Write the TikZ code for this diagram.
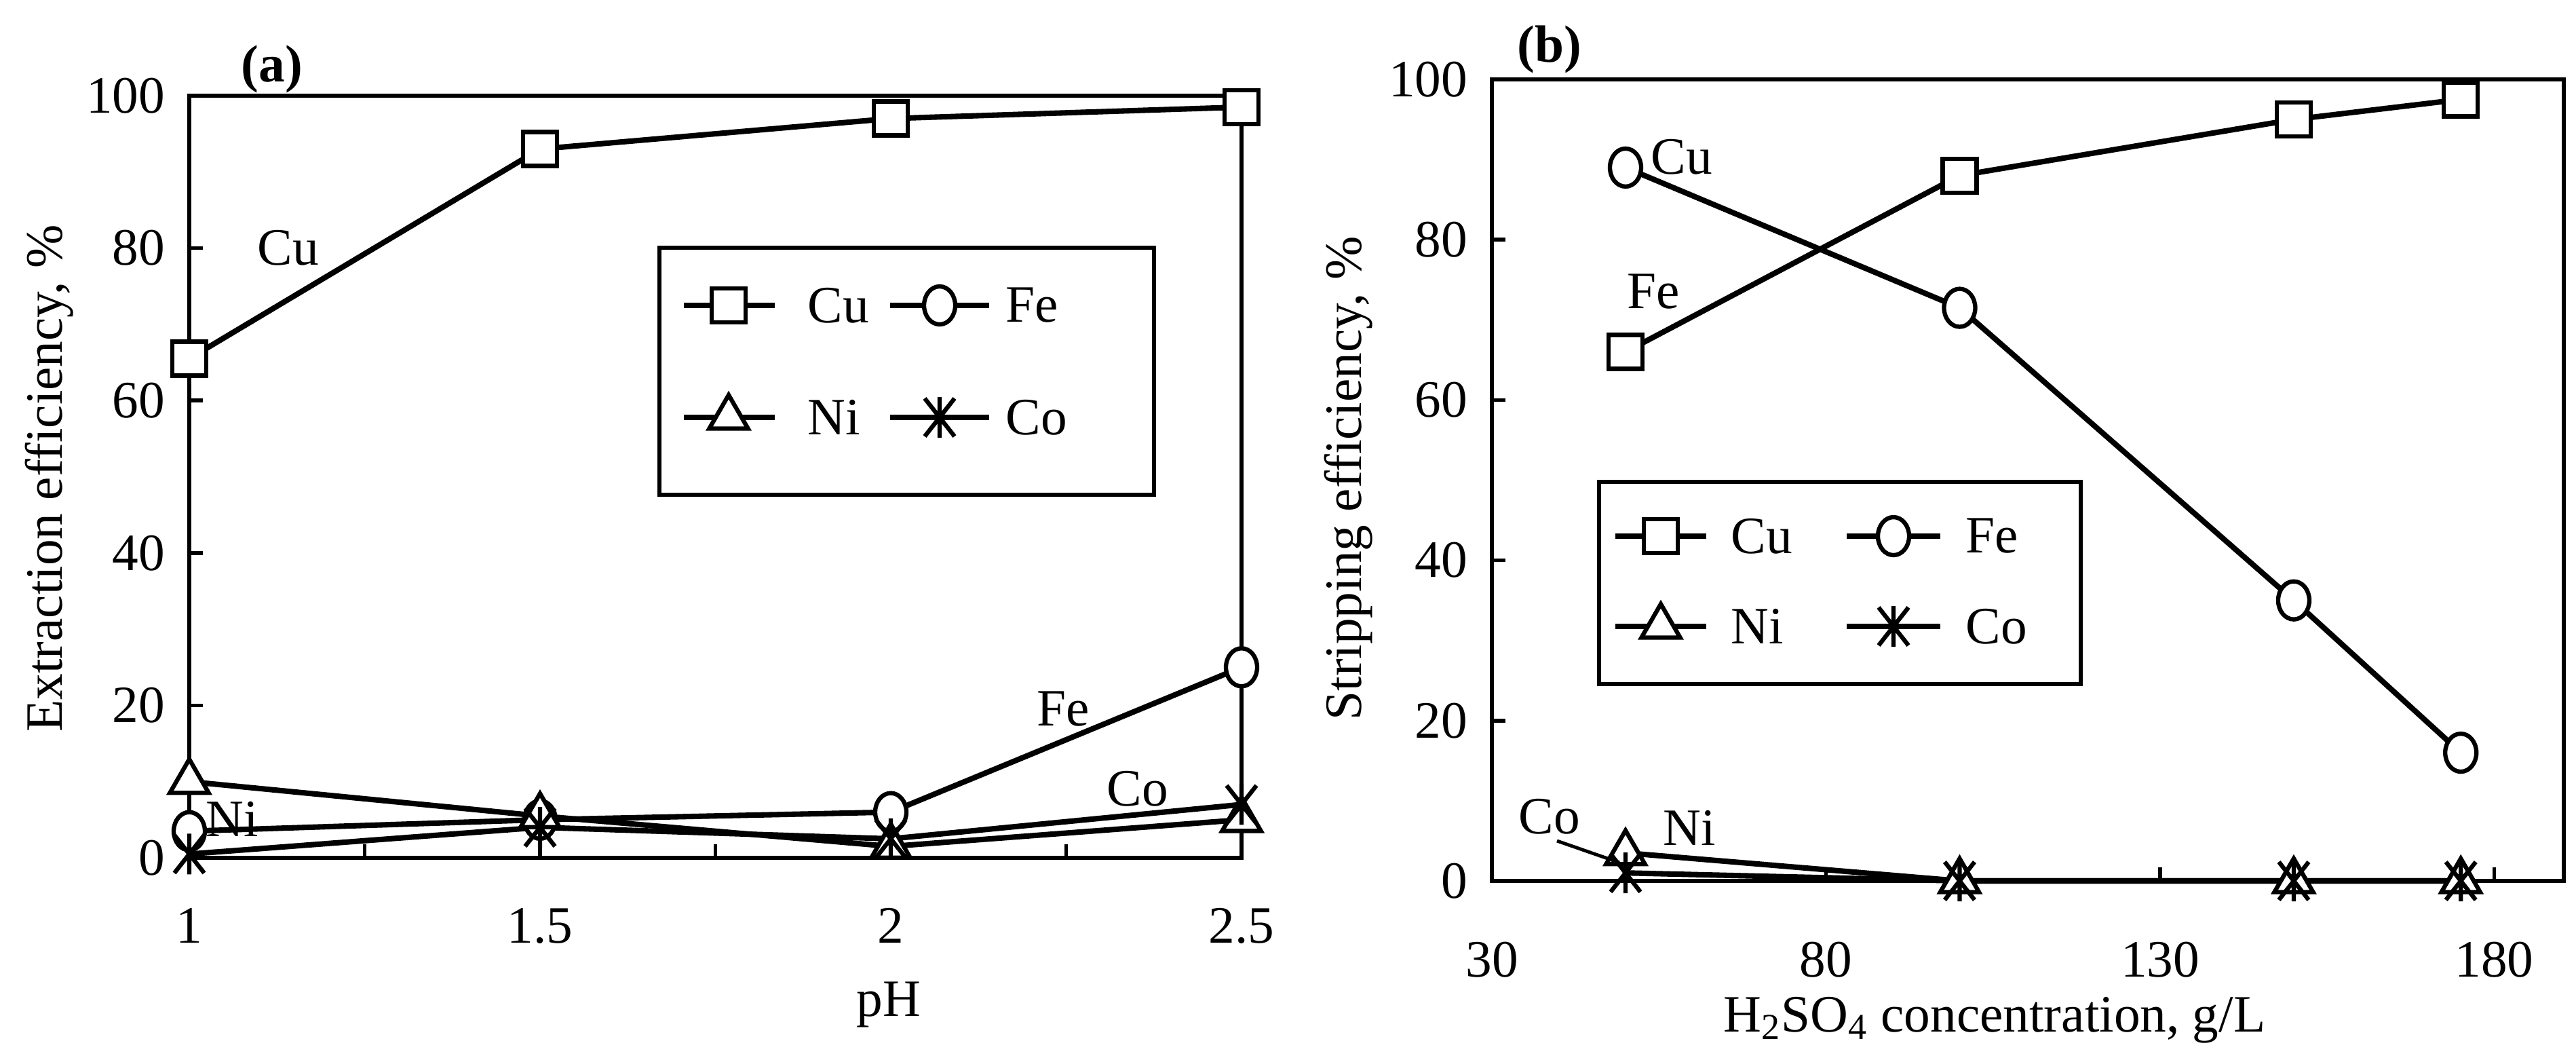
\documentclass[tikz,border=0pt]{standalone}
\usepackage{fontspec}
\setmainfont{Liberation Serif}
\usetikzlibrary{shapes.geometric}
\begin{document}
\begin{tikzpicture}[
  ln/.style={line width=2.3pt,line join=round},
  fr/.style={line width=1.6pt},
  sq/.style={draw,line width=1.8pt,fill=white,minimum size=0.5cm,inner sep=0pt},
  ci/.style={draw,ellipse,line width=1.8pt,fill=white,minimum width=0.46cm,minimum height=0.56cm,inner sep=0pt},
  tri/.style={draw,regular polygon,regular polygon sides=3,line width=1.8pt,fill=white,minimum size=0.66cm,inner sep=0pt},
  lab/.style={font=\fontsize{22}{26}\selectfont,inner sep=0pt},
  ast/.pic={\draw[line width=1.8pt] (-0.22cm,-0.28cm)--(0.22cm,0.28cm) (-0.22cm,0.28cm)--(0.22cm,-0.28cm) (0,-0.3cm)--(0,0.3cm);}
]
\useasboundingbox (0,0) rectangle (37.97,-15.55);
% ================= panel (a)
\begin{scope}[shift={(-7.55cm,-12.64cm)},x=10.34cm,y=0.1123cm]
\draw[fr] (1,0) rectangle (2.5,100);
\foreach \t in {1.25,1.5,1.75,2,2.25} \draw[fr] (\t,0)--++(0,0.2cm);
\foreach \t in {20,40,60,80} \draw[fr] (1,\t)--++(0.2cm,0);
\foreach \t in {0,20,40,60,80,100} \node[lab,anchor=east] at ([xshift=-0.35cm]1,\t) {\t};
\foreach \t in {1,1.5,2,2.5} \node[lab] at ([yshift=-1.0cm]\t,0) {\t};
\coordinate (a1) at (1,65.5); \coordinate (a2) at (1.5,93); \coordinate (a3) at (2,97); \coordinate (a4) at (2.5,98.5);
\coordinate (b1) at (1,3.5); \coordinate (b2) at (1.5,5); \coordinate (b3) at (2,6); \coordinate (b4) at (2.5,25);
\coordinate (c1) at (1,10); \coordinate (c2) at (1.5,5.5); \coordinate (c3) at (2,1.5); \coordinate (c4) at (2.5,5);
\coordinate (d1) at (1,0.5); \coordinate (d2) at (1.5,4); \coordinate (d3) at (2,2.5); \coordinate (d4) at (2.5,7);
\draw[ln] (a1)--(a2)--(a3)--(a4);
\draw[ln] (b1)--(b2)--(b3)--(b4);
\draw[ln] (c1)--(c2)--(c3)--(c4);
\draw[ln] (d1)--(d2)--(d3)--(d4);
\foreach \i in {1,2,3,4} {\node[sq] at (a\i) {}; \node[ci] at (b\i) {}; \node[tri] at (c\i) {}; \pic at (d\i) {ast};}
\end{scope}
\node[lab] (cua) at (4.25,-3.65) {Cu};
\node[lab] (fea) at (15.67,-10.45) {Fe};
\node[lab] (coa) at (16.77,-11.62) {Co};
\node[lab] (nia) at (3.42,-12.07) {Ni};
\node[lab,font=\fontsize{22}{26}\selectfont\bfseries] (ta) at (4.01,-1.02) {(a)};
\node[lab,rotate=90] (yla) at (0.73,-7.05) {Extraction efficiency, \%};
\node[lab] (xla) at (13.1,-14.8) {pH};
% legend (a)
\draw[fr] (9.72,-3.65) rectangle (17.01,-7.29);
\draw[ln] (10.08,-4.5)--(11.42,-4.5); \node[sq] at (10.74,-4.5) {}; \node[lab,anchor=west] at (11.9,-4.5) {Cu};
\draw[ln] (13.12,-4.5)--(14.58,-4.5); \node[ci] at (13.85,-4.5) {}; \node[lab,anchor=west] at (14.82,-4.5) {Fe};
\draw[ln] (10.08,-6.15)--(11.42,-6.15); \node[tri] at (10.74,-6.15) {}; \node[lab,anchor=west] at (11.9,-6.15) {Ni};
\draw[ln] (13.12,-6.15)--(14.58,-6.15); \pic at (13.85,-6.15) {ast}; \node[lab,anchor=west] at (14.82,-6.15) {Co};
% ================= panel (b)
\begin{scope}[shift={(19.035cm,-12.98cm)},x=0.0985cm,y=0.1181cm]
\draw[fr] (30,0) rectangle (190.4,100);
\foreach \t in {80,130,180} \draw[fr] (\t,0)--++(0,0.2cm);
\foreach \t in {20,40,60,80} \draw[fr] (30,\t)--++(0.2cm,0);
\foreach \t in {0,20,40,60,80,100} \node[lab,anchor=east] at ([xshift=-0.35cm]30,\t) {\t};
\foreach \t in {30,80,130,180} \node[lab] at ([yshift=-1.16cm]\t,0) {\t};
\coordinate (e1) at (50,66); \coordinate (e2) at (100,88); \coordinate (e3) at (150,95); \coordinate (e4) at (175,97.5);
\coordinate (f1) at (50,89); \coordinate (f2) at (100,71.5); \coordinate (f3) at (150,35); \coordinate (f4) at (175,16);
\coordinate (g1) at (50,3.5); \coordinate (g2) at (100,0); \coordinate (g3) at (150,0); \coordinate (g4) at (175,0);
\coordinate (h1) at (50,1); \coordinate (h2) at (100,0); \coordinate (h3) at (150,0); \coordinate (h4) at (175,0);
\draw[ln] (e1)--(e2)--(e3)--(e4);
\draw[ln] (f1)--(f2)--(f3)--(f4);
\draw[ln] (g1)--(g2)--(g3)--(g4);
\draw[ln] (h1)--(h2)--(h3)--(h4);
\foreach \i in {1,2,3,4} {\node[sq] at (e\i) {}; \node[ci] at (f\i) {}; \node[tri] at (g\i) {}; \pic at (h\i) {ast};}
\end{scope}
\node[lab] (cub) at (24.79,-2.31) {Cu};
\node[lab] (feb) at (24.37,-4.3) {Fe};
\node[lab] (cob) at (22.84,-12.03) {Co};
\node[lab] (nib) at (24.9,-12.2) {Ni};
\coordinate (cot) at (22.95,-12.39);
\coordinate (coh) at (23.87,-12.71);
\draw[line width=1.4pt] (cot)--(coh);
\node[lab,font=\fontsize{22}{26}\selectfont\bfseries] (tb) at (22.84,-0.73) {(b)};
\node[lab,rotate=90] (ylb) at (19.88,-7.05) {Stripping efficiency, \%};
\node[lab] (xlb) at (29.4,-15.03) {H\textsubscript{2}SO\textsubscript{4} concentration, g/L};
% legend (b)
\draw[fr] (23.57,-7.1) rectangle (30.67,-10.08);
\draw[ln] (23.81,-7.9)--(25.15,-7.9); \node[sq] at (24.48,-7.9) {}; \node[lab,anchor=west] at (25.51,-7.9) {Cu};
\draw[ln] (27.22,-7.9)--(28.6,-7.9); \node[ci] at (27.91,-7.9) {}; \node[lab,anchor=west] at (28.97,-7.9) {Fe};
\draw[ln] (23.81,-9.23)--(25.15,-9.23); \node[tri] at (24.48,-9.23) {}; \node[lab,anchor=west] at (25.51,-9.23) {Ni};
\draw[ln] (27.22,-9.23)--(28.6,-9.23); \pic at (27.91,-9.23) {ast}; \node[lab,anchor=west] at (28.97,-9.23) {Co};
\end{tikzpicture}
\end{document}
